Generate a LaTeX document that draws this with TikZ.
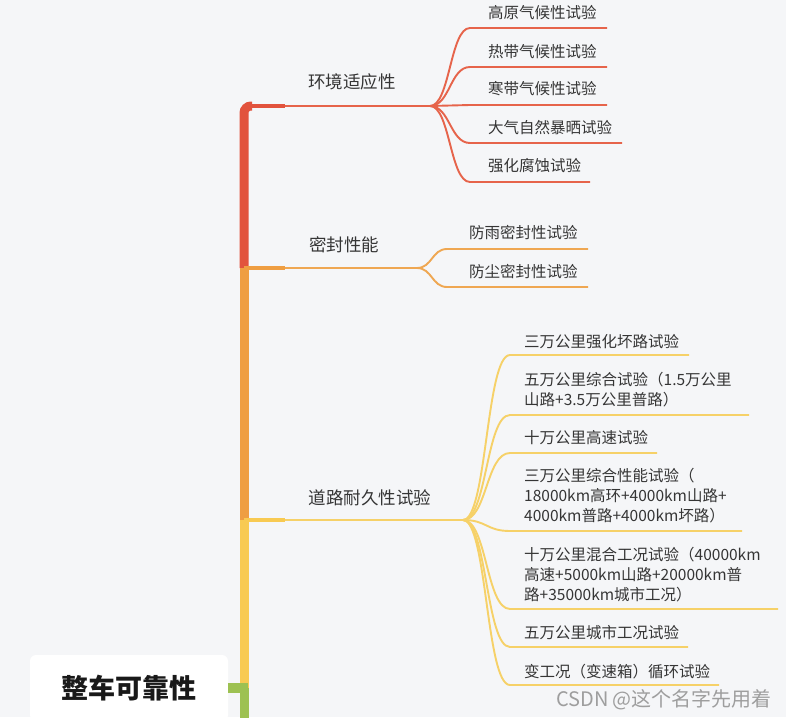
\documentclass[tikz,border=0pt]{standalone}
\usepackage{fontspec}
\setmainfont{Noto Sans CJK SC}
\definecolor{bg}{HTML}{F5F6F8}
\definecolor{txt}{HTML}{353535}
\definecolor{cR}{HTML}{E2533D}
\definecolor{cRl}{HTML}{E6644B}
\definecolor{cO}{HTML}{EF9E42}
\definecolor{cOl}{HTML}{EFA752}
\definecolor{cY}{HTML}{F8CA52}
\definecolor{cYl}{HTML}{F6D168}
\definecolor{cG}{HTML}{9DC152}
\definecolor{wmc}{HTML}{9E9E9E}
\begin{document}
\begin{tikzpicture}[x=1pt,y=-1pt,
  lbl/.style={text=txt, font=\fontsize{17.5}{20}\selectfont, inner sep=0pt},
  leaf/.style={text=txt, font=\fontsize{15.5}{20}\selectfont, anchor=west, align=left, inner sep=0pt},
  trunkline/.style={line width=9pt},
  branchthick/.style={line width=3.5pt},
  thinline/.style={line width=1.9pt},
  rootbox/.style={fill=white, rounded corners=6pt, minimum width=198pt, minimum height=66pt, inner sep=0pt, text=black!90, font=\fontsize{27}{30}\selectfont\bfseries},
  wmark/.style={text=wmc, font=\fontsize{20}{22}\selectfont, inner sep=0pt}
]
\fill[bg] (0,0) rectangle (786,717);
\useasboundingbox (0,0) rectangle (786,717);
\clip (0,0) rectangle (786,717);

% root
\node[rootbox] (root) at (129,688) {整车可靠性};

% trunk coordinates
\coordinate (tTop) at (244,106);
\coordinate (tR) at (244,268);
\coordinate (tO) at (244,520);
\coordinate (tY) at (244,688);
\coordinate (tB) at (244,722);

% trunk
\draw[trunkline, cR, rounded corners=7pt] (tR) -- (tTop) -- (252,106);
\draw[trunkline, cO] (tO) -- (tR);
\draw[trunkline, cY] (tY) -- (tO);
\draw[trunkline, cG] (tB) -- (tY);
\draw[line width=10pt, cG] (root.east |- tY) -- (248,688);

% branch coordinates
\coordinate (bR) at (285,106);
\coordinate (jR) at (430,106);
\coordinate (bO) at (285,268);
\coordinate (jO) at (417,268);
\coordinate (bY) at (285,520);
\coordinate (jY) at (463,520);

\draw[branchthick, cR] (tTop) -- (bR);
\draw[thinline, cRl] (bR) -- (jR);
\draw[branchthick, cO] (tR) -- (bO);
\draw[thinline, cOl] (bO) -- (jO);
\draw[branchthick, cY] (tO) -- (bY);
\draw[thinline, cYl] (bY) -- (jY);

% branch labels
\node[lbl] (env) at (352,82) {环境适应性};
\node[lbl] (seal) at (344,245) {密封性能};
\node[lbl] (road) at (370,498) {道路耐久性试验};

% red leaves
\node[leaf] (r1) at (488,13) {高原气候性试验};
\node[leaf] (r2) at (488,52) {热带气候性试验};
\node[leaf] (r3) at (488,89) {寒带气候性试验};
\node[leaf] (r4) at (488,128) {大气自然暴晒试验};
\node[leaf] (r5) at (488,166) {强化腐蚀试验};
\foreach \n/\y/\e in {r1/28/607, r2/67/607, r3/105/607, r4/143/622, r5/182/590}{
  \coordinate (\n s) at (470,\y);
  \coordinate (\n e) at (\e,\y);
  \draw[thinline, cRl] (jR) .. controls +(20,0) and +(-20,0) .. (\n s) -- (\n e);
}

% orange leaves
\node[leaf] (o1) at (469,233) {防雨密封性试验};
\node[leaf] (o2) at (469,272) {防尘密封性试验};
\foreach \n/\y/\e in {o1/249/588, o2/287/588}{
  \coordinate (\n s) at (447,\y);
  \coordinate (\n e) at (\e,\y);
  \draw[thinline, cOl] (jO) .. controls +(15,0) and +(-15,0) .. (\n s) -- (\n e);
}

% yellow leaves
\node[leaf] (y1) at (524,342) {三万公里强化坏路试验};
\node[leaf] (y2) at (524,390) {五万公里综合试验（1.5万公里\\山路+3.5万公里普路）};
\node[leaf] (y3) at (524,438) {十万公里高速试验};
\node[leaf] (y4) at (524,496) {三万公里综合性能试验（\\18000km高环+4000km山路+\\4000km普路+4000km坏路）};
\node[leaf] (y5) at (524,575) {十万公里混合工况试验（40000km\\高速+5000km山路+20000km普\\路+35000km城市工况）};
\node[leaf] (y6) at (524,633) {五万公里城市工况试验};
\node[leaf] (y7) at (524,672) {变工况（变速箱）循环试验};
\foreach \n/\y/\e in {y1/355/689, y2/415/749, y3/453/657, y4/531/742, y5/609/778, y6/647/688, y7/685/719}{
  \coordinate (\n s) at (510,\y);
  \coordinate (\n e) at (\e,\y);
  \draw[thinline, cYl] (jY) .. controls +(24,0) and +(-24,0) .. (\n s) -- (\n e);
}

% watermark
\node[wmark] (wm) at (664,700) {CSDN @这个名字先用着};
\end{tikzpicture}
\end{document}
